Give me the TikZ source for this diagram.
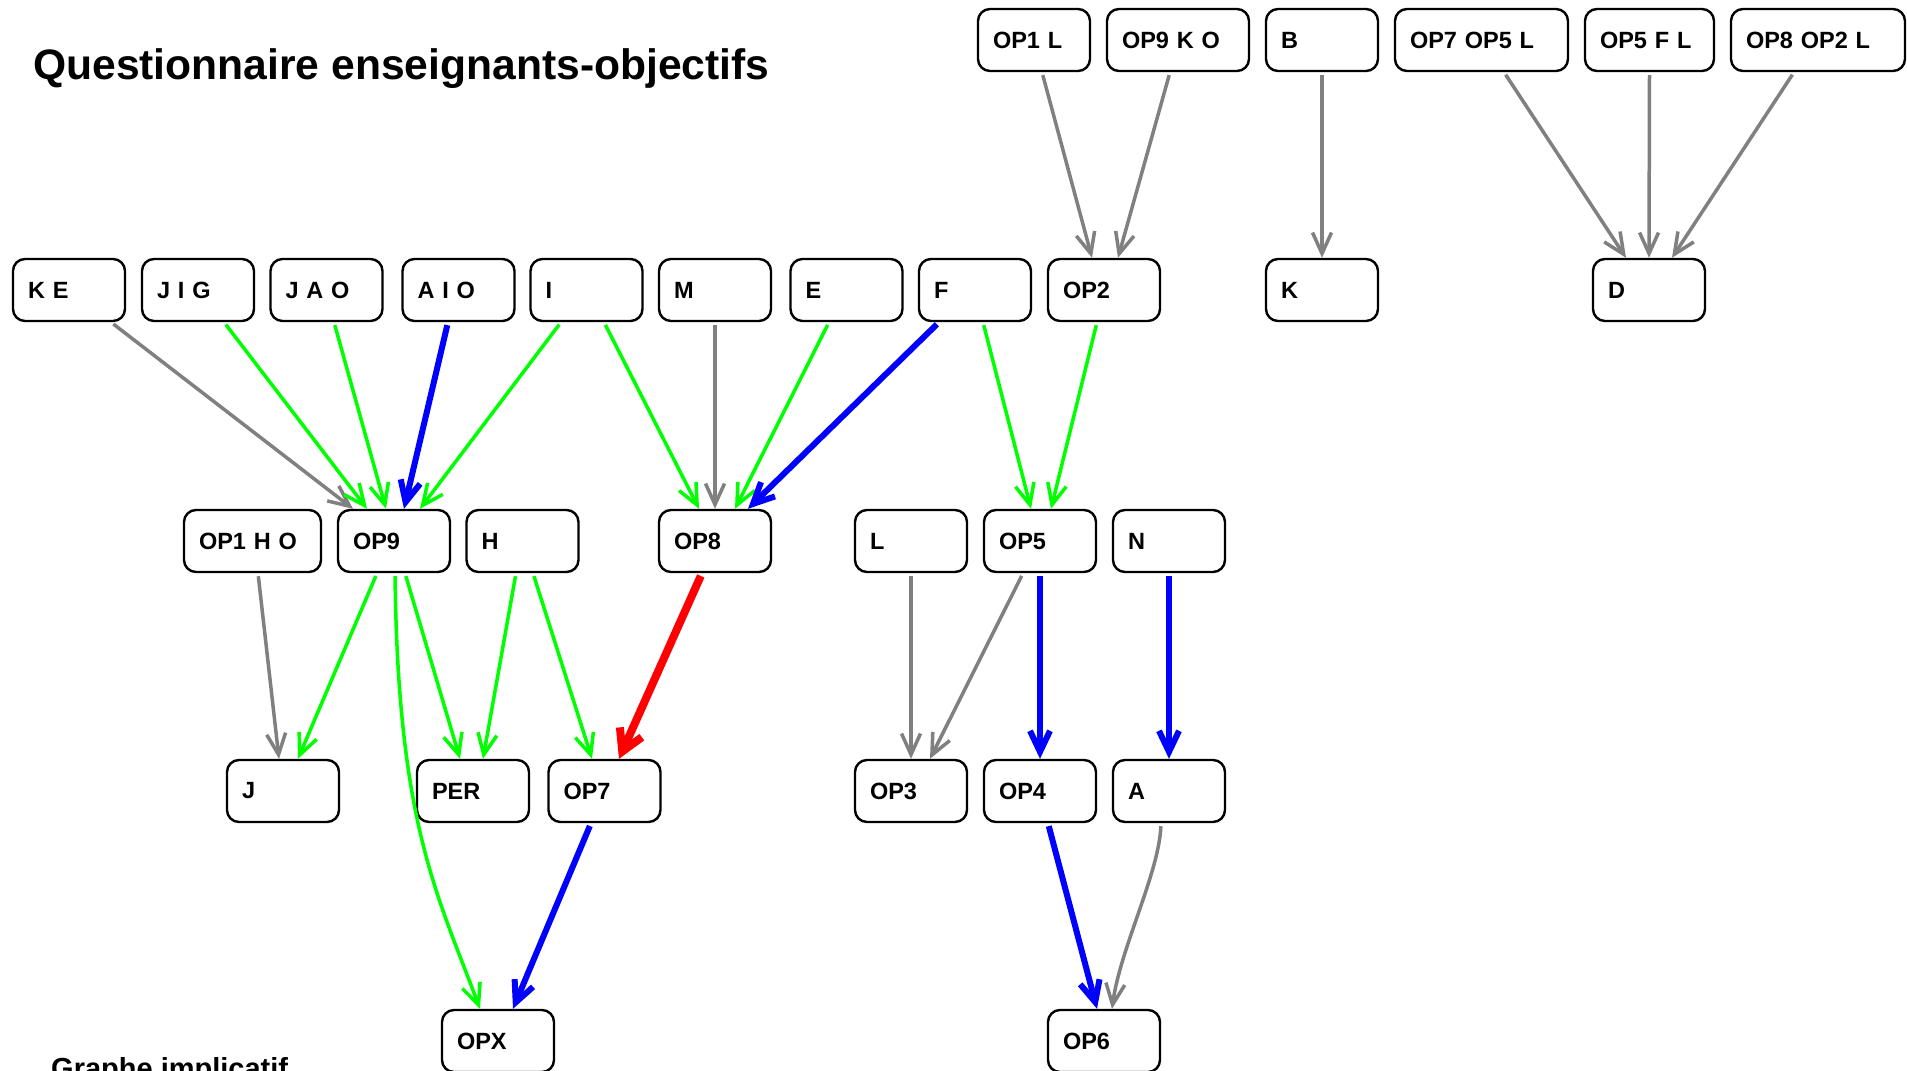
\documentclass[tikz,border=0pt]{standalone}
\usepackage{fontspec}
\setmainfont{Liberation Sans}
\usetikzlibrary{arrows.meta}
\definecolor{lnkgray}{RGB}{128,128,128}
\definecolor{lnkgreen}{RGB}{0,255,0}
\definecolor{lnkblue}{RGB}{0,0,255}
\definecolor{lnkred}{RGB}{255,0,0}

\begin{document}
\begin{tikzpicture}[x=1pt,y=-1pt,
  box/.style={draw, rounded corners=12pt, line width=2.4pt, minimum height=62pt,
    inner xsep=15pt, inner ysep=0pt, text width=#1, align=left,
    font=\fontsize{23.5pt}{28pt}\selectfont\bfseries},
  box/.default=82pt,
  link/.style={line width=3.5pt, shorten <=3pt,
    -{Straight Barb[length=21pt,width=19pt]}},
  weak/.style={link, draw=lnkgray},
  mid/.style={link, draw=lnkgreen},
  strong/.style={link, draw=lnkblue, line width=6pt,
    -{Straight Barb[length=21pt,width=20pt]}},
  vstrong/.style={link, draw=lnkred, line width=8pt,
    -{Straight Barb[length=21pt,width=24pt]}},
]
\useasboundingbox (0,0) rectangle (1907,1071);

% titles
\node[anchor=base west, inner sep=0pt, font=\fontsize{42.6pt}{50pt}\selectfont\bfseries]
  (title) at (33,79) {Questionnaire enseignants-objectifs};
\node[anchor=base west, inner sep=0pt, font=\fontsize{29pt}{34pt}\selectfont\bfseries]
  (subtitle) at (51,1078) {Graphe implicatif};

% top row
\node[box=82pt]  (op1L)    at (1034,40)   {OP1 L};
\node[box=112pt] (op9KO)   at (1178,40)   {OP9 K O};
\node[box]       (nB)      at (1322,40)   {B};
\node[box=143pt] (op7op5L) at (1481.5,40) {OP7 OP5 L};
\node[box=99pt]  (op5FL)   at (1649.5,40) {OP5 F L};
\node[box=144pt] (op8op2L) at (1818,40)   {OP8 OP2 L};

% second row
\node[box] (kE)  at (69,290)    {K E};
\node[box] (jIG) at (198,290)   {J I G};
\node[box] (jAO) at (326.5,290) {J A O};
\node[box] (aIO) at (458.5,290) {A I O};
\node[box] (nI)  at (586.5,290) {I};
\node[box] (nM)  at (715,290)   {M};
\node[box] (nE)  at (846.5,290) {E};
\node[box] (nF)  at (975,290)   {F};
\node[box] (op2) at (1104,290)  {OP2};
\node[box] (nK)  at (1322,290)  {K};
\node[box] (nD)  at (1649,290)  {D};

% third row
\node[box=107pt] (op1HO) at (252.5,541) {OP1 H O};
\node[box] (op9) at (394,541)   {OP9};
\node[box] (nH)  at (522.5,541) {H};
\node[box] (op8) at (715,541)   {OP8};
\node[box] (nL)  at (911,541)   {L};
\node[box] (op5) at (1040,541)  {OP5};
\node[box] (nN)  at (1169,541)  {N};

% fourth row
\node[box] (nJ)  at (283,791)   {J};
\node[box] (per) at (473,791)   {PER};
\node[box] (op7) at (604.5,791) {OP7};
\node[box] (op3) at (911,791)   {OP3};
\node[box] (op4) at (1040,791)  {OP4};
\node[box] (nA)  at (1169,791)  {A};

% bottom row
\node[box] (opX) at (498,1041)  {OPX};
\node[box] (op6) at (1104,1041) {OP6};

% implications from the top row
\draw[weak] ([xshift=8pt]op1L.south)     -- ([xshift=-12pt]op2.north);
\draw[weak] ([xshift=-8pt]op9KO.south)   -- ([xshift=14pt]op2.north);
\draw[weak] (nB.south)                   -- (nK.north);
\draw[weak] ([xshift=22.5pt]op7op5L.south) -- ([xshift=-23pt]nD.north);
\draw[weak] (op5FL.south)                -- (nD.north);
\draw[weak] ([xshift=-24pt]op8op2L.south) -- ([xshift=23pt]nD.north);

% second row to third row
\draw[weak]   ([xshift=42pt]kE.south)    -- ([xshift=-41pt]op9.north);
\draw[mid]    ([xshift=26pt]jIG.south)   -- ([xshift=-27pt]op9.north);
\draw[mid]    ([xshift=7.5pt]jAO.south)  -- ([xshift=-8pt]op9.north);
\draw[strong] ([xshift=-10.5pt]aIO.south) -- ([xshift=10pt]op9.north);
\draw[mid]    ([xshift=-25.5pt]nI.south) -- ([xshift=26pt]op9.north);
\draw[mid]    ([xshift=17.5pt]nI.south)  -- ([xshift=-16pt]op8.north);
\draw[weak]   (nM.south)                 -- (op8.north);
\draw[mid]    ([xshift=-17.5pt]nE.south) -- ([xshift=20pt]op8.north);
\draw[strong] ([xshift=-36pt]nF.south)   -- ([xshift=33pt]op8.north);
\draw[mid]    ([xshift=8pt]nF.south)     -- ([xshift=-9pt]op5.north);
\draw[mid]    ([xshift=-7pt]op2.south)   -- ([xshift=11pt]op5.north);

% third row to fourth row
\draw[weak]    ([xshift=5.5pt]op1HO.south) -- ([xshift=-4pt]nJ.north);
\draw[mid]     ([xshift=-17pt]op9.south)   -- ([xshift=15pt]nJ.north);
\draw[mid]     ([xshift=11pt]op9.south)    -- ([xshift=-13pt]per.north);
\draw[mid]     ([xshift=-6.5pt]nH.south)   -- ([xshift=10pt]per.north);
\draw[mid]     ([xshift=10.5pt]nH.south)   -- ([xshift=-12.5pt]op7.north);
\draw[vstrong] ([xshift=-13pt]op8.south)   -- ([xshift=14.5pt]op7.north);
\draw[weak]    (nL.south)                  -- (op3.north);
\draw[weak]    ([xshift=-17pt]op5.south)   -- ([xshift=19pt]op3.north);
\draw[strong]  (op5.south)                 -- (op4.north);
\draw[strong]  (nN.south)                  -- (nA.north);

% down to the bottom row
\draw[mid] ([xshift=1pt]op9.south) .. controls +(3,250) and +(-43,-115) .. ([xshift=-18pt]opX.north);
\draw[strong] ([xshift=-13.5pt]op7.south) -- ([xshift=15pt]opX.north);
\draw[strong] ([xshift=8pt]op4.south)     -- ([xshift=-7pt]op6.north);
\draw[weak] ([xshift=-8pt]nA.south) .. controls +(-2,50) and +(8,-60) .. ([xshift=8pt]op6.north);

\end{tikzpicture}
\end{document}
